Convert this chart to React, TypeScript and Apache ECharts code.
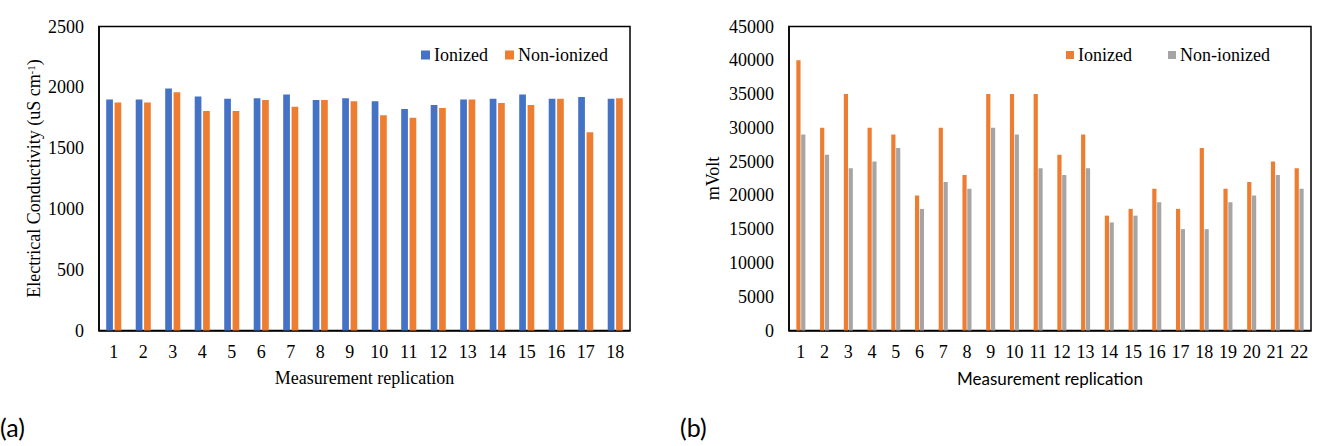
import React, { useEffect, useRef } from "react";
import * as echarts from "echarts";

// (a) electrical conductivity, 18 replications
const ecCategories = Array.from({ length: 18 }, (_, i) => String(i + 1));
const ecIonized = [1900, 1900, 1990, 1925, 1905, 1910, 1940, 1895, 1910, 1885, 1822, 1855, 1900, 1905, 1940, 1905, 1920, 1905];
const ecNonIonized = [1875, 1875, 1960, 1805, 1805, 1895, 1840, 1895, 1885, 1770, 1750, 1830, 1900, 1870, 1855, 1905, 1630, 1910];
const ecTicks = { min: 0, max: 2500, interval: 500 };

// (b) voltage, 22 replications
const mvCategories = Array.from({ length: 22 }, (_, i) => String(i + 1));
const mvIonized = [40000, 30000, 35000, 30000, 29000, 20000, 30000, 23000, 35000, 35000, 35000, 26000, 29000, 17000, 18000, 21000, 18000, 27000, 21000, 22000, 25000, 24000];
const mvNonIonized = [29000, 26000, 24000, 25000, 27000, 18000, 22000, 21000, 30000, 29000, 24000, 23000, 24000, 16000, 17000, 19000, 15000, 15000, 19000, 20000, 23000, 21000];
const mvTicks = { min: 0, max: 45000, interval: 5000 };

const SERIF = "Liberation Serif";
const SANS = "Lato";
const BLUE = "#4472C4";
const ORANGE = "#ED7D31";
const GRAY = "#A5A5A5";

const axisLine = { show: true, lineStyle: { color: "#000", width: 1.5 } };
const serifText = { color: "#000", fontFamily: SERIF, fontSize: 18 };
const sansText = { color: "#000", fontFamily: SANS, fontSize: 17 };

const App = () => {
  const chartRef = useRef<HTMLDivElement>(null);

  useEffect(() => {
    const dom = chartRef.current;
    if (!dom) return;
    const chart = echarts.init(dom, null, { renderer: "svg" });

    const option: any = {
      animation: false,
      textStyle: { fontFamily: SERIF },
      grid: [
        { left: 99, top: 26.5, width: 531, height: 304, show: true, borderColor: "#000", borderWidth: 1.5 },
        { left: 789, top: 26.5, width: 522, height: 304, show: true, borderColor: "#000", borderWidth: 1.5 },
      ],
      legend: [
        {
          data: ["Ionized", "Non-ionized"],
          left: 421, top: 46, padding: 0, itemWidth: 9, itemHeight: 9, itemGap: 17,
          icon: "rect",
          textStyle: { ...serifText, padding: [0, 0, 0, -1] },
        },
        {
          data: ["Ionized (b)", "Non-ionized (b)"],
          formatter: (n: string) => n.replace(" (b)", ""),
          left: 1066, top: 46, padding: 0, itemWidth: 8, itemHeight: 8, itemGap: 36,
          icon: "rect",
          textStyle: { ...serifText, padding: [0, 0, 0, -1] },
        },
      ],
      xAxis: [
        {
          gridIndex: 0, type: "category", data: ecCategories,
          axisLine, axisTick: { show: false },
          axisLabel: { ...serifText, margin: 12, interval: 0 },
          name: "Measurement replication", nameLocation: "middle", nameGap: 38,
          nameTextStyle: serifText,
        },
        {
          gridIndex: 1, type: "category", data: mvCategories,
          axisLine, axisTick: { show: false },
          axisLabel: { ...serifText, margin: 12, interval: 0 },
          name: "Measurement replication", nameLocation: "middle", nameGap: 39,
          nameTextStyle: sansText,
        },
      ],
      yAxis: [
        {
          gridIndex: 0, type: "value", ...ecTicks,
          axisLine, axisTick: { show: false }, splitLine: { show: false },
          axisLabel: { ...serifText, margin: 15, formatter: (v: number) => String(v) },
          name: "Electrical Conductivity (uS cm{sup|-1})", nameLocation: "middle", nameGap: 56,
          nameTextStyle: {
            ...serifText,
            rich: { sup: { ...serifText, fontSize: 11, verticalAlign: "top", lineHeight: 18 } },
          },
        },
        {
          gridIndex: 1, type: "value", ...mvTicks,
          axisLine, axisTick: { show: false }, splitLine: { show: false },
          axisLabel: { ...serifText, margin: 15, formatter: (v: number) => String(v) },
          name: "mVolt", nameLocation: "middle", nameGap: 67,
          nameTextStyle: serifText,
        },
      ],
      series: [
        { name: "Ionized", type: "bar", xAxisIndex: 0, yAxisIndex: 0, data: ecIonized, barWidth: 6.7, barGap: "25%", itemStyle: { color: BLUE } },
        { name: "Non-ionized", type: "bar", xAxisIndex: 0, yAxisIndex: 0, data: ecNonIonized, barWidth: 6.7, barGap: "25%", itemStyle: { color: ORANGE } },
        { name: "Ionized (b)", type: "bar", xAxisIndex: 1, yAxisIndex: 1, data: mvIonized, barWidth: 4.2, barGap: "15%", itemStyle: { color: ORANGE } },
        { name: "Non-ionized (b)", type: "bar", xAxisIndex: 1, yAxisIndex: 1, data: mvNonIonized, barWidth: 4.2, barGap: "15%", itemStyle: { color: GRAY } },
      ],
      graphic: [
        { type: "text", left: 0, top: 414, style: { text: "(a)", fontFamily: SANS, fontSize: 25, fill: "#000" } },
        { type: "text", left: 680, top: 414, style: { text: "(b)", fontFamily: SANS, fontSize: 25, fill: "#000" } },
      ],
    };

    chart.setOption(option);
    const onResize = () => chart.resize();
    window.addEventListener("resize", onResize);
    return () => {
      window.removeEventListener("resize", onResize);
      chart.dispose();
    };
  }, []);

  return (
    <div
      ref={chartRef}
      style={{ position: "fixed", left: 0, top: 0, width: 1332, height: 446, background: "#fff" }}
    />
  );
};

export default App;
